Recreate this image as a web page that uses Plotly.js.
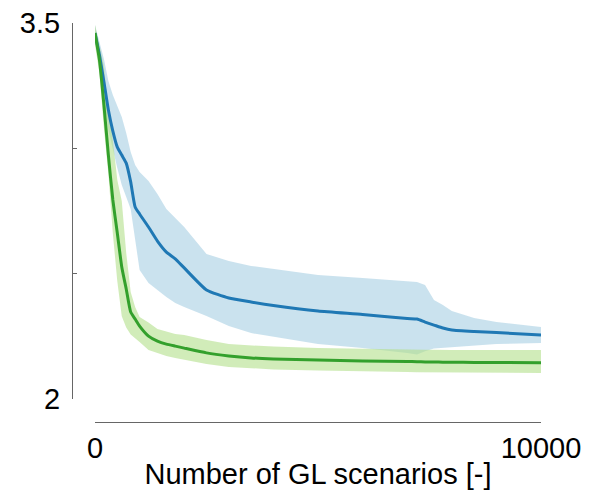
<!DOCTYPE html>
<html>
<head>
<meta charset="utf-8">
<script src="https://cdn.plot.ly/plotly-3.0.1.min.js"></script>
<style>html,body{margin:0;padding:0;background:#fff}#chart{width:592px;height:490px}</style>
</head>
<body>
<div id="chart"></div>
<script>
const scenarios = [0,100,200,300,400,500,600,700,800,900,1000,1200,1400,1600,1800,2000,2500,3000,3500,4000,5000,6000,7000,7220,7400,7600,7800,8000,8500,9000,10000];

const blueMean  = [3.460,3.372,3.265,3.153,3.069,3.005,2.973,2.941,2.866,2.766,2.738,2.686,2.630,2.586,2.559,2.523,2.435,2.403,2.387,2.373,2.351,2.337,2.321,2.319,2.307,2.295,2.283,2.275,2.269,2.265,2.255];
const blueUpper = [3.492,3.424,3.356,3.269,3.213,3.169,3.125,3.061,2.985,2.934,2.906,2.870,2.818,2.758,2.722,2.686,2.578,2.551,2.531,2.519,2.495,2.483,2.471,2.467,2.455,2.395,2.375,2.351,2.323,2.307,2.287];
const blueLower = [3.432,3.332,3.193,3.073,3.001,2.922,2.854,2.806,2.758,2.646,2.515,2.463,2.435,2.407,2.383,2.367,2.331,2.291,2.263,2.247,2.219,2.203,2.184,2.178,2.190,2.201,2.203,2.207,2.213,2.219,2.223];

const greenMean  = [3.460,3.352,3.173,2.973,2.794,2.662,2.527,2.439,2.347,2.319,2.291,2.251,2.231,2.219,2.211,2.203,2.184,2.172,2.164,2.160,2.156,2.152,2.150,2.149,2.148,2.148,2.147,2.147,2.146,2.146,2.145];
const greenUpper = [3.492,3.410,3.328,3.153,3.033,2.874,2.790,2.582,2.427,2.367,2.327,2.305,2.279,2.269,2.259,2.255,2.235,2.219,2.213,2.209,2.203,2.199,2.197,2.196,2.196,2.196,2.195,2.195,2.195,2.195,2.195];
const greenLower = [3.412,3.300,3.080,2.900,2.660,2.470,2.330,2.285,2.257,2.243,2.227,2.195,2.182,2.172,2.164,2.156,2.140,2.128,2.122,2.118,2.114,2.110,2.108,2.107,2.106,2.106,2.105,2.105,2.104,2.104,2.104];

const xTickVals = [0,10000];
const xTickText = ['0','10000'];
const yTickVals = [2,2.5,3,3.5];
const yTickText = ['2','','','3.5'];

function band(upper, lower, color){
  return {
    x: scenarios.concat(scenarios.slice().reverse()),
    y: upper.concat(lower.slice().reverse()),
    type:'scatter', mode:'lines', fill:'toself',
    fillcolor: color, line:{width:0, color:'rgba(0,0,0,0)'},
    hoverinfo:'skip', showlegend:false
  };
}

const traces = [
  band(blueUpper, blueLower, 'rgba(166,206,227,0.6)'),
  band(greenUpper, greenLower, 'rgba(178,223,138,0.6)'),
  {x:scenarios, y:blueMean, type:'scatter', mode:'lines', line:{color:'#1f78b4', width:3, shape:'spline', smoothing:0.5}, showlegend:false},
  {x:scenarios, y:greenMean, type:'scatter', mode:'lines', line:{color:'#33a02c', width:3, shape:'spline', smoothing:0.5}, showlegend:false}
];

const font = {family:'"Liberation Sans", Arial, Helvetica, sans-serif', size:29, color:'#000'};
const W = 592, H = 490;
const ml = 60, mr = 51, mt = 23, mb = 68;
const pw = W - ml - mr;
const ph = H - mt - mb;

const layout = {
  width: W, height: H,
  margin:{l:ml, r:mr, t:mt, b:mb, pad:0},
  paper_bgcolor:'#fff', plot_bgcolor:'#fff',
  font: font,
  showlegend:false,
  xaxis:{
    domain:[(95-ml)/pw, 1],
    range:[0,10000],
    anchor:'free', position:0,
    tickvals:xTickVals, ticktext:xTickText,
    ticks:'inside', ticklen:4, tickcolor:'#666', tickwidth:1,
    showline:true, linecolor:'#666', linewidth:1,
    showgrid:false, zeroline:false,
    ticklabelstandoff:0,
    tickfont:font,
    title:{text:'Number of GL scenarios [-]', font:font, standoff:10}
  },
  yaxis:{
    domain:[(422-399)/ph, 1],
    range:[2,3.5],
    anchor:'free', position:(72-ml)/pw,
    tickvals:yTickVals, ticktext:yTickText,
    ticks:'inside', ticklen:4, tickcolor:'#666', tickwidth:1,
    showline:true, linecolor:'#666', linewidth:1,
    showgrid:false, zeroline:false,
    ticklabelstandoff:6,
    tickfont:font
  }
};

Plotly.newPlot('chart', traces, layout, {staticPlot:true, displayModeBar:false});
</script>
</body>
</html>
